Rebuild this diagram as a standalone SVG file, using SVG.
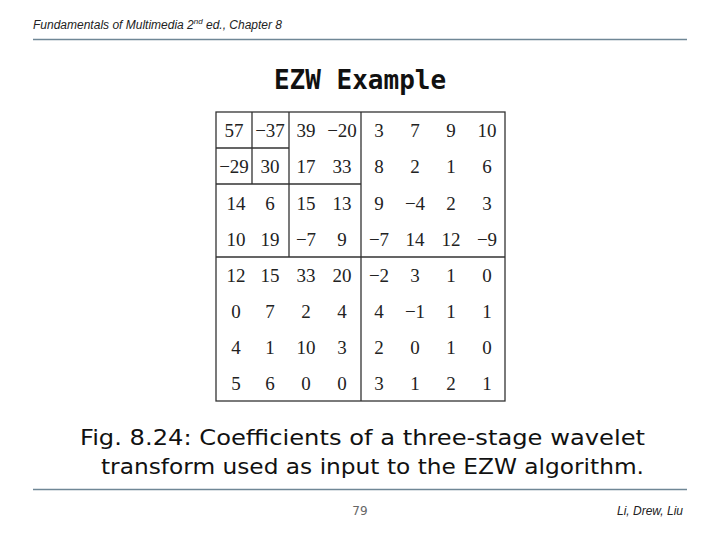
<svg xmlns="http://www.w3.org/2000/svg" width="720" height="540" viewBox="0 0 720 540">
<style>
.n{font-family:"Liberation Serif",serif;font-size:19px;fill:#222;text-anchor:middle}
.g{stroke:#333;stroke-width:1.3;fill:none}
.f{font-family:"Liberation Sans",sans-serif;font-style:italic;font-size:12px;fill:#222}
.c{font-family:"DejaVu Sans",sans-serif;font-size:22px;fill:#111}
</style>
<rect width="720" height="540" fill="#fff"/>
<text x="33" y="29" class="f">Fundamentals of Multimedia 2<tspan font-size="8" dy="-5">nd</tspan><tspan dy="5"> ed., Chapter 8</tspan></text>
<line x1="33" y1="39.5" x2="687" y2="39.5" stroke="#6f8796" stroke-width="1.3"/>
<text x="360" y="89" text-anchor="middle" font-family="DejaVu Sans Mono,monospace" font-weight="bold" font-size="26" fill="#111">EZW Example</text>
<g id="grid">
<rect x="216" y="112" width="289" height="289" class="g"/>
<path class="g" d="M252 112V184M216 148H289M289 112V257M216 184H361M361 112V401M216 257H505"/>
</g>
<g id="numbers">
<text class="n" y="137"><tspan x="234">57</tspan><tspan x="270">−37</tspan><tspan x="306">39</tspan><tspan x="342">−20</tspan><tspan x="379">3</tspan><tspan x="415">7</tspan><tspan x="451">9</tspan><tspan x="487">10</tspan></text>
<text class="n" y="173"><tspan x="234">−29</tspan><tspan x="270">30</tspan><tspan x="306">17</tspan><tspan x="342">33</tspan><tspan x="379">8</tspan><tspan x="415">2</tspan><tspan x="451">1</tspan><tspan x="487">6</tspan></text>
<text class="n" y="210"><tspan x="236">14</tspan><tspan x="270">6</tspan><tspan x="306">15</tspan><tspan x="342">13</tspan><tspan x="379">9</tspan><tspan x="415">−4</tspan><tspan x="451">2</tspan><tspan x="487">3</tspan></text>
<text class="n" y="246"><tspan x="236">10</tspan><tspan x="270">19</tspan><tspan x="306">−7</tspan><tspan x="342">9</tspan><tspan x="379">−7</tspan><tspan x="415">14</tspan><tspan x="451">12</tspan><tspan x="487">−9</tspan></text>
<text class="n" y="282"><tspan x="236">12</tspan><tspan x="270">15</tspan><tspan x="306">33</tspan><tspan x="342">20</tspan><tspan x="379">−2</tspan><tspan x="415">3</tspan><tspan x="451">1</tspan><tspan x="487">0</tspan></text>
<text class="n" y="318"><tspan x="236">0</tspan><tspan x="270">7</tspan><tspan x="306">2</tspan><tspan x="342">4</tspan><tspan x="379">4</tspan><tspan x="415">−1</tspan><tspan x="451">1</tspan><tspan x="487">1</tspan></text>
<text class="n" y="354"><tspan x="236">4</tspan><tspan x="270">1</tspan><tspan x="306">10</tspan><tspan x="342">3</tspan><tspan x="379">2</tspan><tspan x="415">0</tspan><tspan x="451">1</tspan><tspan x="487">0</tspan></text>
<text class="n" y="390"><tspan x="236">5</tspan><tspan x="270">6</tspan><tspan x="306">0</tspan><tspan x="342">0</tspan><tspan x="379">3</tspan><tspan x="415">1</tspan><tspan x="451">2</tspan><tspan x="487">1</tspan></text>
</g>
<text x="80" y="445" class="c" textLength="565" lengthAdjust="spacingAndGlyphs">Fig. 8.24: Coefficients of a three-stage wavelet</text>
<text x="101" y="474" class="c" textLength="543" lengthAdjust="spacingAndGlyphs">transform used as input to the EZW algorithm.</text>
<line x1="33" y1="489.5" x2="687" y2="489.5" stroke="#6f8796" stroke-width="1.3"/>
<text x="360" y="515" text-anchor="middle" font-family="DejaVu Sans,sans-serif" font-size="12" fill="#666">79</text>
<text x="683" y="515" text-anchor="end" class="f" fill="#666">Li, Drew, Liu</text>
</svg>
